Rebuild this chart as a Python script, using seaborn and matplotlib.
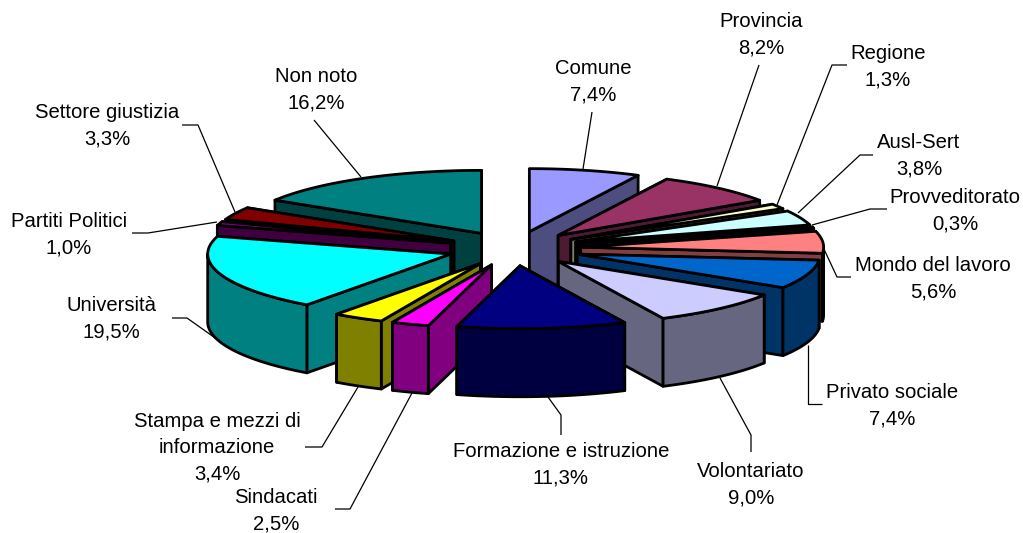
import numpy as np
import matplotlib
matplotlib.use("Agg")
import matplotlib.pyplot as plt
import seaborn as sns

categories = ["Comune", "Provincia", "Regione", "Ausl-Sert", "Provveditorato",
              "Mondo del lavoro", "Privato sociale", "Volontariato",
              "Formazione e istruzione", "Sindacati",
              "Stampa e mezzi di\ninformazione", "Università",
              "Partiti Politici", "Settore giustizia", "Non noto"]
values = [7.4, 8.2, 1.3, 3.8, 0.3, 5.6, 7.4, 9.0, 11.3, 2.5, 3.4, 19.5, 1.0, 3.3, 16.2]
colors = ["#9999FF", "#993366", "#FFFFCC", "#CCFFFF", "#660066", "#FF8080", "#0066CC",
          "#CCCCFF", "#000080", "#FF00FF", "#FFFF00", "#00FFFF", "#800080", "#800000", "#008080"]

# label centre (first line) and leader polyline, in image pixels
label_pos = [(593, 67), (761, 20), (888, 52), (919, 141), (955, 196), (933, 264), (892, 391),
             (751, 470), (561, 450), (276, 496), (217, 420), (111, 304), (69, 220), (107, 111), (316, 75)]
leaders = [[(592, 112), (583, 169)],
           [(759, 65), (717, 186)],
           [(847, 65), (832, 65), (777, 205)],
           [(873, 155), (860, 155), (798, 213)],
           [(887, 209), (870, 209), (812, 225)],
           [(851, 277), (837, 277), (823, 247)],
           [(822, 404), (808, 404), (808, 345)],
           [(751, 452), (751, 435), (720, 378)],
           [(561, 435), (561, 415), (548, 397)],
           [(335, 509), (350, 509), (412, 393)],
           [(305, 447), (322, 447), (358, 387)],
           [(172, 318), (187, 318), (218, 340)],
           [(132, 233), (148, 233), (217, 222)],
           [(182, 125), (198, 125), (235, 212)],
           [(314, 120), (361, 177)]]

CX, CY = 514, 248.5
RX, RY = 243, 63
EXPLODE = 0.275
DEPTH = 68

sns.set_theme(style="white")
plt.rcParams["font.family"] = ["Liberation Sans", "DejaVu Sans"]
palette = sns.color_palette(colors)

fig, ax = plt.subplots(figsize=(10.23, 5.33), dpi=100)
ax.set_position([0, 0, 1, 1])
ax.set_xlim(0, 1023)
ax.set_ylim(533, 0)
ax.axis("off")

vals = np.array(values, dtype=float)
edges = np.concatenate([[0], np.cumsum(vals)]) / vals.sum() * 2 * np.pi
mids = (edges[:-1] + edges[1:]) / 2
LW = 2.0

for i in np.argsort(-np.cos(mids)):
    a0, a1, m = edges[i], edges[i + 1], mids[i]
    top = palette[i]
    side = tuple(c * 0.5 for c in top)
    vx = CX + EXPLODE * RX * np.sin(m)
    vy = CY - EXPLODE * RY * np.cos(m)
    t = np.linspace(a0, a1, max(3, int((a1 - a0) * 40)))
    ax_x = vx + RX * np.sin(t)
    ax_y = vy - RY * np.cos(t)
    style = dict(edgecolor="black", linewidth=LW, joinstyle="round")
    walls = sorted([a0, a1], key=lambda a: -np.cos(a))
    for a in walls:
        ex, ey = vx + RX * np.sin(a), vy - RY * np.cos(a)
        ax.fill([vx, ex, ex, vx], [vy, ey, ey + DEPTH, vy + DEPTH], facecolor=side, **style)
    front = np.cos(t) <= 0.02
    if front.sum() >= 2:
        fx, fy = ax_x[front], ax_y[front]
        ax.fill(np.r_[fx, fx[::-1]], np.r_[fy, fy[::-1] + DEPTH], facecolor=side, **style)
    ax.fill(np.r_[vx, ax_x], np.r_[vy, ax_y], facecolor=top, **style)

for name, v, (lx, ly), pts in zip(categories, values, label_pos, leaders):
    xs, ys = zip(*pts)
    ax.plot(xs, ys, color="black", lw=0.9, solid_capstyle="butt", zorder=1)
    text = f"{name}\n{v:.1f}%".replace(".", ",")
    ax.text(lx, ly - 8, text, ha="center", va="top", fontsize=14.6,
            color="black", linespacing=1.47, zorder=5)

fig.savefig("out.png", dpi=100, facecolor="white")
